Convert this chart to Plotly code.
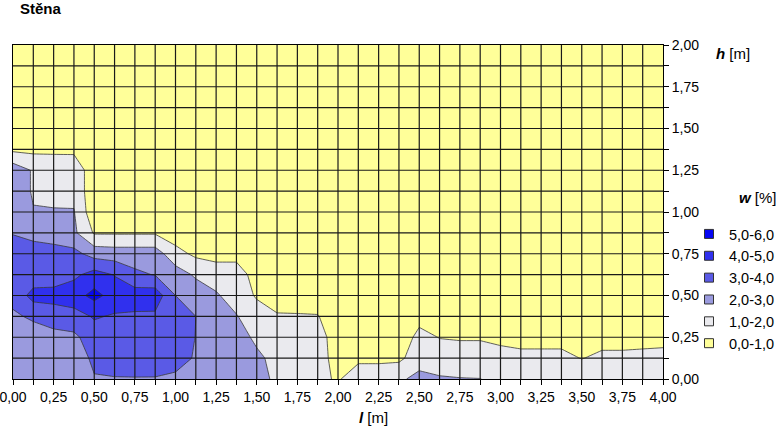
import plotly.graph_objects as go

# grid of measurement points
l_vals = [0.0, 0.125, 0.25, 0.375, 0.5, 0.625, 0.75, 0.875, 1.0, 1.125, 1.25, 1.375, 1.5, 1.625, 1.75, 1.875,
          2.0, 2.125, 2.25, 2.375, 2.5, 2.625, 2.75, 2.875, 3.0, 3.125, 3.25, 3.375, 3.5, 3.625, 3.75, 3.875, 4.0]
h_vals = [0.0, 0.125, 0.25, 0.375, 0.5, 0.625, 0.75, 0.875, 1.0, 1.125, 1.25, 1.375, 1.5, 1.625, 1.75, 1.875, 2.0]

# moisture w [%] rows (bottom h=0 to top h=2)
w_h000 = [2.5, 2.5, 2.5, 2.6, 2.95, 2.95, 2.95, 2.95, 2.9, 2.7, 2.65, 2.6, 2.45, 1.75, 1.5, 1.21, 0.9, 1.55, 1.55, 1.8, 2.33, 2.13, 2.05, 2.02, 1.7, 1.6, 1.6, 1.6, 1.5, 1.6, 1.6, 1.6, 1.6]
w_h0125 = [2.55, 2.6, 2.7, 2.6, 3.15, 3.4, 3.5, 3.45, 3.2, 2.95, 2.7, 2.5, 2.2, 1.7, 1.6, 1.325, 0.7, 0.8, 0.8, 0.8, 1.5, 1.3, 1.26, 1.26, 1.3, 1.157, 1.157, 1.157, 0.98, 1.12, 1.12, 1.157, 1.2]
w_h025 = [2.6, 2.7, 2.8, 2.8, 3.5, 3.7, 3.75, 3.7, 3.5, 2.98, 2.7, 2.43, 1.8, 1.65, 1.55, 1.5, 0.4, 0.6, 0.6, 0.6, 1.18, 0.98, 0.95, 0.95, 0.8, 0.8, 0.8, 0.8, 0.8, 0.8, 0.8, 0.8, 0.8]
w_h0375 = [2.9, 3.1, 3.3, 3.6, 4.1, 3.9, 3.85, 3.8, 3.6, 3.0, 2.7, 2.05, 1.5, 1.1, 1.08, 1.05, 0.4, 0.5, 0.5, 0.5, 0.8, 0.6, 0.5, 0.5, 0.5, 0.5, 0.5, 0.5, 0.5, 0.5, 0.5, 0.5, 0.5]
w_h050 = [3.2, 4.4, 4.5, 4.6, 5.3, 4.6, 4.5, 4.6, 3.0, 2.6, 2.1, 1.6, 0.886, 0.5, 0.5, 0.5, 0.5, 0.5, 0.5, 0.5, 0.5, 0.5, 0.5, 0.5, 0.5, 0.5, 0.5, 0.5, 0.5, 0.5, 0.5, 0.5, 0.5]
w_h0625 = [3.7, 3.3, 3.25, 3.78, 4.39, 3.95, 3.2, 2.95, 2.5, 1.85, 1.6, 1.6, 0.5, 0.5, 0.5, 0.5, 0.5, 0.5, 0.5, 0.5, 0.5, 0.5, 0.5, 0.5, 0.5, 0.5, 0.5, 0.5, 0.5, 0.5, 0.5, 0.5, 0.5]
w_h075 = [3.5, 3.3, 3.25, 3.3, 2.6, 2.5, 2.5, 2.5, 1.33, 0.8, 0.6, 0.6, 0.5, 0.5, 0.5, 0.5, 0.5, 0.5, 0.5, 0.5, 0.5, 0.5, 0.5, 0.5, 0.5, 0.5, 0.5, 0.5, 0.5, 0.5, 0.5, 0.5, 0.5]
w_h0875 = [2.95, 2.8, 2.7, 2.2, 0.9, 0.9, 0.9, 0.9, 0.5, 0.5, 0.5, 0.5, 0.5, 0.5, 0.5, 0.5, 0.5, 0.5, 0.5, 0.5, 0.5, 0.5, 0.5, 0.5, 0.5, 0.5, 0.5, 0.5, 0.5, 0.5, 0.5, 0.5, 0.5]
w_h100 = [2.7, 2.05, 2.05, 2.05, 0.3, 0.5, 0.5, 0.5, 0.5, 0.5, 0.5, 0.5, 0.5, 0.5, 0.5, 0.5, 0.5, 0.5, 0.5, 0.5, 0.5, 0.5, 0.5, 0.5, 0.5, 0.5, 0.5, 0.5, 0.5, 0.5, 0.5, 0.5, 0.5]
w_h1125 = [2.6, 1.9, 1.8, 1.75, 0.3, 0.5, 0.5, 0.5, 0.5, 0.5, 0.5, 0.5, 0.5, 0.5, 0.5, 0.5, 0.5, 0.5, 0.5, 0.5, 0.5, 0.5, 0.5, 0.5, 0.5, 0.5, 0.5, 0.5, 0.5, 0.5, 0.5, 0.5, 0.5]
w_h125 = [2.6, 1.9, 1.8, 1.75, 0.3, 0.5, 0.5, 0.5, 0.5, 0.5, 0.5, 0.5, 0.5, 0.5, 0.5, 0.5, 0.5, 0.5, 0.5, 0.5, 0.5, 0.5, 0.5, 0.5, 0.5, 0.5, 0.5, 0.5, 0.5, 0.5, 0.5, 0.5, 0.5]
w_h1375 = [0.8, 0.75, 0.75, 0.75, 0.5, 0.5, 0.5, 0.5, 0.5, 0.5, 0.5, 0.5, 0.5, 0.5, 0.5, 0.5, 0.5, 0.5, 0.5, 0.5, 0.5, 0.5, 0.5, 0.5, 0.5, 0.5, 0.5, 0.5, 0.5, 0.5, 0.5, 0.5, 0.5]
w_h150 = [0.5] * 33
w_h1625 = [0.5] * 33
w_h175 = [0.5] * 33
w_h1875 = [0.5] * 33
w_h200 = [0.5] * 33

w = [w_h000, w_h0125, w_h025, w_h0375, w_h050, w_h0625, w_h075, w_h0875, w_h100,
     w_h1125, w_h125, w_h1375, w_h150, w_h1625, w_h175, w_h1875, w_h200]

levels = [1, 2, 3, 4, 5]
band_labels = ["0,0-1,0", "1,0-2,0", "2,0-3,0", "3,0-4,0", "4,0-5,0", "5,0-6,0"]
band_colors = ["#FFFF99", "#EAEAEE", "#9A9ADE", "#5A5AE6", "#3030EE", "#0606F4"]

FONT = "Liberation Sans, Arial, sans-serif"

fig = go.Figure()

# each band: shade the region where w >= level (plotly shades where the "<" constraint fails)
for k in levels:
    fig.add_trace(go.Contour(
        x=l_vals, y=h_vals, z=w,
        contours=dict(type="constraint", operation="<", value=k),
        fillcolor=band_colors[k],
        line=dict(color="#3a3a3a", width=0.8, smoothing=0),
        showscale=False, hoverinfo="skip", showlegend=False,
    ))

# legend entries (top to bottom 5-6 ... 0-1)
for lab, col in zip(band_labels[::-1], band_colors[::-1]):
    fig.add_trace(go.Scatter(
        x=[None], y=[None], mode="markers", name=lab,
        marker=dict(symbol="square", size=9, color=col, line=dict(color="#333333", width=1)),
    ))

# grid lines over the filled contours, at the measurement grid
shapes = []
for xv in l_vals[1:-1]:
    shapes.append(dict(type="line", xref="x", yref="y", x0=xv, x1=xv, y0=h_vals[0], y1=h_vals[-1],
                       line=dict(color="#1a1a1a", width=1.2), layer="above"))
for yv in h_vals[1:-1]:
    shapes.append(dict(type="line", xref="x", yref="y", x0=l_vals[0], x1=l_vals[-1], y0=yv, y1=yv,
                       line=dict(color="#1a1a1a", width=1.2), layer="above"))

fig.update_layout(
    width=780, height=428,
    margin=dict(l=13, r=117, t=45, b=49, autoexpand=False),
    paper_bgcolor="white", plot_bgcolor=band_colors[0],
    separators=", ",
    font=dict(family=FONT, size=14, color="black"),
    title=dict(text="<b>Stěna</b>", x=20 / 780, xanchor="left", y=1 - 9 / 428, yanchor="middle",
               font=dict(size=15, family=FONT, color="black")),
    shapes=shapes,
    showlegend=True,
    legend=dict(
        xref="container", yref="container",
        x=689 / 780, xanchor="left", y=1 - 218 / 428, yanchor="top",
        font=dict(size=14.5, family=FONT, color="black"),
        bgcolor="rgba(0,0,0,0)", itemwidth=30, tracegroupgap=0,
    ),
    annotations=[
        dict(text="<b><i>h</i></b> [m]", xref="paper", yref="paper", x=1.078, y=0.976,
             xanchor="left", yanchor="middle", showarrow=False, font=dict(size=15, family=FONT)),
        dict(text="<b><i>l</i></b> [m]", xref="paper", yref="paper", x=0.555, y=-0.114,
             xanchor="center", yanchor="middle", showarrow=False, font=dict(size=15, family=FONT)),
        dict(text="<b><i>w</i></b> [%]", xref="paper", yref="paper", x=(737 - 13) / 650, y=(379 - 197) / 334,
             xanchor="left", yanchor="middle", showarrow=False, font=dict(size=15, family=FONT)),
    ],
)

fig.update_xaxes(
    range=[0, 4], tick0=0, dtick=0.25, tickformat=".2f", automargin=False,
    ticks="outside", ticklen=5, tickcolor="black", ticklabeloverflow="allow",
    minor=dict(tick0=0, dtick=0.125, ticks="outside", ticklen=5, tickcolor="black", showgrid=False),
    showline=True, linecolor="black", linewidth=1, mirror=True,
    showgrid=False, zeroline=False, layer="above traces",
    tickfont=dict(size=14, family=FONT, color="black"),
)
fig.update_yaxes(
    range=[0, 2], side="right", tick0=0, dtick=0.25, tickformat=".2f", automargin=False,
    ticks="outside", ticklen=5, tickcolor="black", ticklabeloverflow="allow",
    minor=dict(tick0=0, dtick=0.125, ticks="outside", ticklen=5, tickcolor="black", showgrid=False),
    showline=True, linecolor="black", linewidth=1, mirror=True,
    showgrid=False, zeroline=False, layer="above traces",
    tickfont=dict(size=14, family=FONT, color="black"),
)

fig.write_html("out.html")
